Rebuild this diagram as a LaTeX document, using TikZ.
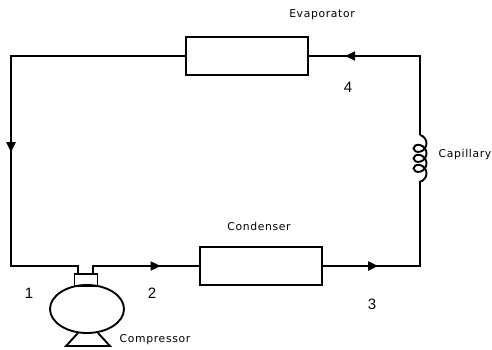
\documentclass[tikz,border=0pt]{standalone}
\usepackage{fontspec}
\setmainfont{Liberation Sans}
\newfontfamily\partfont[LetterSpace=6]{DejaVu Sans}
\usetikzlibrary{positioning,arrows.meta,shapes.geometric,decorations.pathmorphing,decorations.markings}

\begin{document}
\begin{tikzpicture}[
  x=1pt, y=-1pt,
  line width=1.9pt,
  font=\fontsize{10.8}{12}\partfont,
  unit/.style={draw, minimum width=122pt, minimum height=38pt, inner sep=0pt},
  flow/.style={postaction={decorate, decoration={markings,
    mark=at position #1 with {\arrow{Stealth[length=10pt, width=9pt, inset=0pt]}}}}},
  statenum/.style={font=\fontsize{15}{17}\selectfont},
  ]
  \useasboundingbox (0,0) rectangle (492,349);
  \node[unit] (evap) at (247,56) {};
  \node[unit] (cond) at (261,266) {};
  \node[draw, ellipse, minimum width=74pt, minimum height=48pt, inner sep=0pt] (comp) at (87,309) {};
  \node[draw, minimum width=23pt, minimum height=12pt, inner sep=0pt] (head) at (86,280) {};
  \coordinate (topleft) at (11,56);
  \coordinate (botleft) at (11,266);
  \coordinate (topright) at (420,56);
  \coordinate (botright) at (420,266);
  \coordinate (suction) at (78,266);
  \coordinate (discharge) at (93,266);
  \coordinate (coiltop) at (420,135);
  \coordinate (coilbot) at (420,185);
  % compressor foot
  \draw (78,333) -- (66,346) -- (110,346) -- (98,333);
  % refrigerant loop
  \draw[flow=0.59] (evap.west) -- (topleft) -- (botleft) -- (suction) -- (suction |- head.north);
  \draw[flow=0.66] (head.north -| discharge) -- (discharge) -- (cond.west);
  \draw[flow=0.31] (cond.east) -- (botright) -- (coilbot);
  \draw[flow=0.81] (coiltop) -- (topright) -- (evap.east);
  \draw[decorate, decoration={coil, aspect=0.9, amplitude=6.5pt, segment length=10pt}]
    (coiltop) -- (coilbot);
  % labels
  \node at (322,15) (evaplabel) {Evaporator};
  \node at (259,226) (condlabel) {Condenser};
  \node at (465,155) (caplabel) {Capillary};
  \node at (155,340) (complabel) {Compressor};
  \node[statenum] at (29,293) (n1) {1};
  \node[statenum] at (152,293) (n2) {2};
  \node[statenum] at (372,304) (n3) {3};
  \node[statenum] at (348,87) (n4) {4};
\end{tikzpicture}
\end{document}
